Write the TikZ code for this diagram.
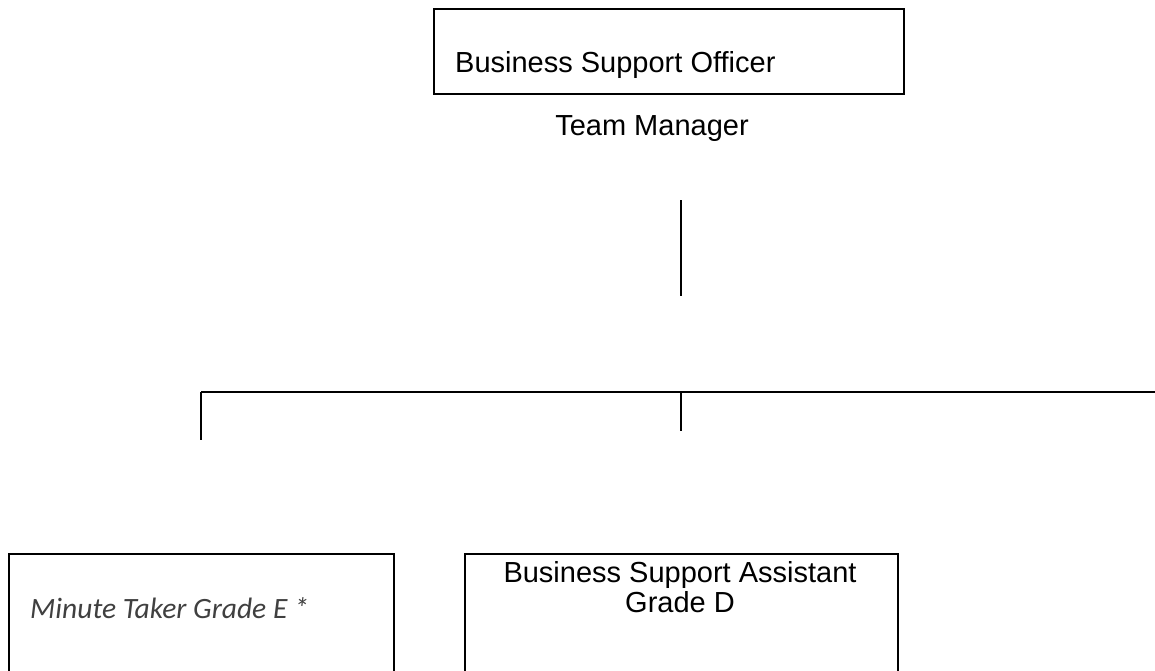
\documentclass[tikz,border=0pt]{standalone}
\usepackage{fontspec}
\setmainfont{Liberation Sans}
\newfontfamily\minutefont{Carlito}
\usepackage{xcolor}
\definecolor{minutegray}{HTML}{404040}

\begin{document}
\begin{tikzpicture}[x=1pt, y=-1pt,
        box/.style = {shape=rectangle, draw, line width=2pt,
                      anchor=north west, inner sep=0pt,
                      minimum width=#1, minimum height=160pt},
        title/.style = {font=\fontsize{29}{30}\selectfont, inner sep=0pt},
        link/.style = {line width=1.5pt},
        bar/.style = {line width=2.2pt}]
        \clip (0,0) rectangle (1155,671);
        % boxes
        \node[box=470pt, minimum height=85pt] (officerbox) at (433,8) {};
        \node[box=385pt] (minutebox) at (8,553) {};
        \node[box=433pt] (assistantbox) at (464,553) {};
        % texts
        \node[title, anchor=base west] (officer) at (455,73) {Business Support Officer};
        \node[title, anchor=base] (manager) at (652,136) {Team Manager};
        \node[title, anchor=base, align=center] (assistant) at (680,612)
                {Business Support Assistant\\Grade D};
        \node[font=\minutefont\itshape\fontsize{29.5}{30}\selectfont, text=minutegray,
              inner sep=0pt, anchor=base west] (minute) at (30,618) {Minute Taker Grade E *};
        % lines
        \coordinate (droptop) at (681,200);
        \coordinate (dropend) at (681,296);
        \coordinate (barleft) at (201,392);
        \coordinate (barmid) at (681,392);
        \coordinate (barright) at (1155,392);
        \coordinate (minuteend) at (201,440);
        \coordinate (assistantend) at (681,431);
        \draw[link] (droptop) -- (dropend);
        \draw[bar] (barleft) -- (barright);
        \draw[link] (barleft) -- (minuteend);
        \draw[link] (barmid) -- (assistantend);
\end{tikzpicture}
\end{document}
